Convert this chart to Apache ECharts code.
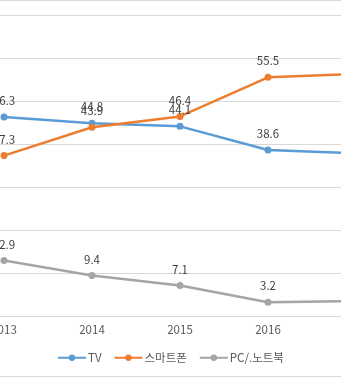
<!DOCTYPE html>
<html>
<head>
<meta charset="utf-8">
<script src="https://cdn.jsdelivr.net/npm/echarts@6/dist/echarts.min.js"></script>
<style>
html,body{margin:0;padding:0;background:#fff;}
#chart{width:341px;height:378px;}
</style>
</head>
<body>
<div id="chart"></div>
<script>
// 연도
var years = ['2013', '2014', '2015', '2016', '2017'];
// 시리즈 값
var tvData = [46.3, 44.8, 44.1, 38.6, 37.8];
var phoneData = [37.3, 43.9, 46.4, 55.5, 56.3];
var pcData = [12.9, 9.4, 7.1, 3.2, 3.5];
var seriesNames = ['TV', '스마트폰', 'PC/.노트북'];
var seriesColors = ['#5b9bd5', '#ed7d31', '#a5a5a5'];

var font = '"Noto Sans CJK KR", "Noto Sans", sans-serif';

function makeSeries(name, data, color){
	return {
		name: name,
		type: 'line',
		data: data,
		symbol: 'circle',
		symbolSize: 7,
		lineStyle: {width: 2.5, color: color},
		itemStyle: {color: color},
		label: {
			show: true,
			position: 'top',
			distance: 7,
			color: '#404040',
			fontSize: 11.5,
			fontFamily: font
		}
	};
}

var myChart = echarts.init(document.getElementById('chart'));
myChart.setOption({
	animation: false,
	backgroundColor: '#fff',
	grid: {left: -40, top: 15, width: 440, height: 301, containLabel: false, outerBoundsMode: 'none'},
	legend: {
		top: 352,
		left: 57,
		padding: 0,
		itemWidth: 28,
		itemHeight: 8,
		itemGap: 12,
		textStyle: {color: '#595959', fontSize: 11.5, fontFamily: font, padding: [0, 0, 0, -3]},
		data: seriesNames
	},
	xAxis: {
		type: 'category',
		data: years,
		boundaryGap: true,
		axisLine: {lineStyle: {color: '#d9d9d9'}},
		axisTick: {show: false},
		axisLabel: {color: '#595959', fontSize: 11.5, fontFamily: font, margin: 8}
	},
	yAxis: {
		type: 'value',
		min: 0,
		max: 70,
		interval: 10,
		axisLine: {show: false},
		axisTick: {show: false},
		axisLabel: {show: false},
		splitLine: {lineStyle: {color: '#d9d9d9', width: 1}}
	},
	graphic: [
		{type: 'line', shape: {x1: 0, y1: 0.5, x2: 341, y2: 0.5}, style: {stroke: '#d9d9d9', lineWidth: 1}},
		{type: 'line', shape: {x1: 0, y1: 376.5, x2: 341, y2: 376.5}, style: {stroke: '#d9d9d9', lineWidth: 1}}
	],
	series: [
		makeSeries(seriesNames[0], tvData, seriesColors[0]),
		makeSeries(seriesNames[1], phoneData, seriesColors[1]),
		makeSeries(seriesNames[2], pcData, seriesColors[2])
	]
});
</script>
</body>
</html>
